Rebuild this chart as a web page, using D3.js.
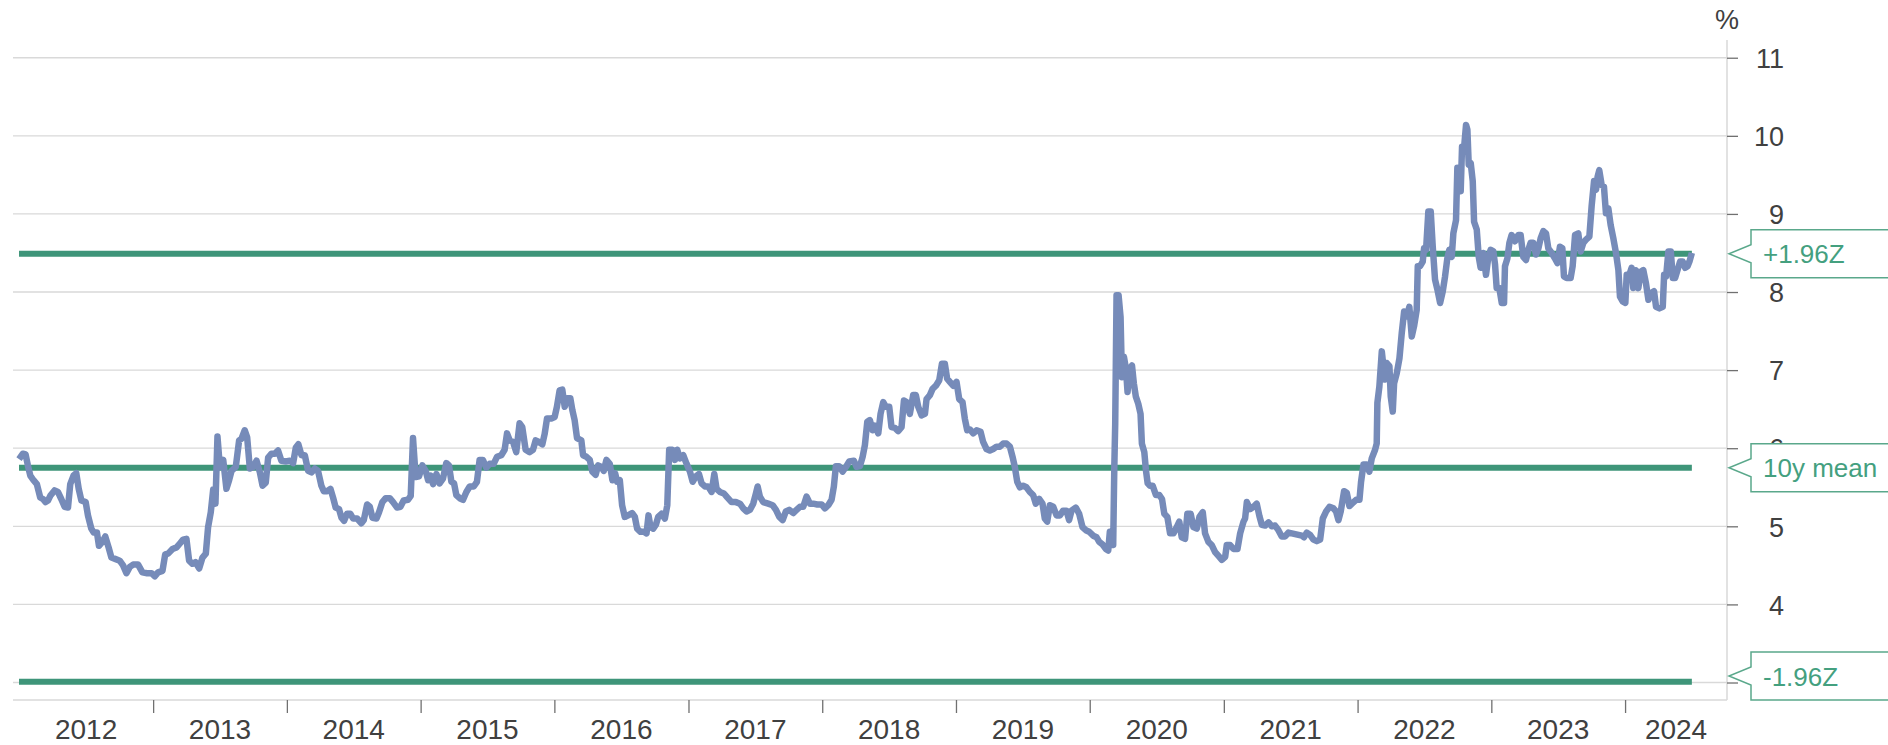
<!DOCTYPE html>
<html>
<head>
<meta charset="utf-8">
<script src="https://cdn.jsdelivr.net/npm/d3@7"></script>
<style>
  body { margin: 0; background: #fff; }
  svg { display: block; font-family: "Liberation Sans", Arial, sans-serif; }
</style>
</head>
<body>
<div id="chart"></div>
<script>
// chart values
var yTicks = [3, 4, 5, 6, 7, 8, 9, 10, 11];
var yearLabels = ["2012", "2013", "2014", "2015", "2016", "2017", "2018", "2019", "2020", "2021", "2022", "2023", "2024"];
var bandNames = ["+1.96Z", "10y mean", "-1.96Z"];
var bandValues = [8.49, 5.75, 3.01];
var axisStart = 2011.955, axisEnd = 2024.76;   // decimal years
var yDomain = [2.776, 11.227];

// [decimal year, %]
var series = [
  [2012.000,5.86],[2012.029,5.93],[2012.049,5.92],[2012.066,5.78],[2012.084,5.65],[2012.108,5.59],[2012.133,5.54],[2012.158,5.37],[2012.178,5.35],[2012.198,5.31],[2012.216,5.33],[2012.233,5.39],[2012.265,5.46],[2012.290,5.44],[2012.315,5.35],[2012.340,5.25],[2012.365,5.24],[2012.382,5.54],[2012.407,5.65],[2012.427,5.68],[2012.445,5.48],[2012.465,5.33],[2012.497,5.31],[2012.514,5.14],[2012.539,4.97],[2012.557,4.92],[2012.581,4.92],[2012.596,4.75],[2012.621,4.80],[2012.643,4.87],[2012.668,4.73],[2012.689,4.60],[2012.721,4.58],[2012.751,4.56],[2012.776,4.50],[2012.801,4.40],[2012.826,4.48],[2012.851,4.51],[2012.888,4.51],[2012.920,4.41],[2012.955,4.40],[2012.988,4.40],
  [2013.013,4.36],[2013.037,4.41],[2013.070,4.43],[2013.090,4.64],[2013.112,4.65],[2013.145,4.71],[2013.175,4.73],[2013.200,4.78],[2013.224,4.83],[2013.249,4.84],[2013.269,4.56],[2013.294,4.52],[2013.317,4.54],[2013.344,4.46],[2013.369,4.60],[2013.394,4.65],[2013.411,4.99],[2013.431,5.18],[2013.449,5.47],[2013.466,5.29],[2013.481,6.15],[2013.499,5.76],[2013.524,5.85],[2013.548,5.48],[2013.568,5.59],[2013.586,5.71],[2013.618,5.76],[2013.643,6.10],[2013.660,6.12],[2013.685,6.23],[2013.703,6.14],[2013.723,5.74],[2013.748,5.76],[2013.773,5.84],[2013.798,5.69],[2013.818,5.52],[2013.842,5.56],[2013.860,5.88],[2013.885,5.93],[2013.910,5.93],[2013.934,5.97],[2013.959,5.84],[2013.992,5.83],
  [2014.022,5.84],[2014.047,5.81],[2014.067,6.01],[2014.086,6.05],[2014.109,5.91],[2014.134,5.91],[2014.159,5.71],[2014.184,5.69],[2014.209,5.74],[2014.233,5.71],[2014.258,5.52],[2014.276,5.45],[2014.301,5.45],[2014.326,5.48],[2014.345,5.37],[2014.365,5.24],[2014.390,5.22],[2014.408,5.11],[2014.428,5.07],[2014.450,5.16],[2014.475,5.16],[2014.495,5.10],[2014.525,5.10],[2014.557,5.04],[2014.575,5.08],[2014.600,5.28],[2014.620,5.25],[2014.640,5.11],[2014.670,5.10],[2014.689,5.18],[2014.714,5.31],[2014.739,5.36],[2014.769,5.36],[2014.794,5.31],[2014.824,5.24],[2014.849,5.25],[2014.873,5.33],[2014.906,5.34],[2014.926,5.39],[2014.943,6.13],[2014.963,5.63],[2014.988,5.64],
  [2015.013,5.78],[2015.038,5.71],[2015.056,5.59],[2015.073,5.65],[2015.093,5.54],[2015.118,5.67],[2015.142,5.55],[2015.167,5.61],[2015.192,5.81],[2015.212,5.78],[2015.230,5.57],[2015.250,5.55],[2015.267,5.40],[2015.292,5.36],[2015.317,5.34],[2015.342,5.44],[2015.367,5.51],[2015.397,5.51],[2015.421,5.57],[2015.441,5.85],[2015.466,5.85],[2015.491,5.75],[2015.516,5.80],[2015.546,5.80],[2015.571,5.89],[2015.603,5.91],[2015.628,5.98],[2015.646,6.19],[2015.666,6.10],[2015.691,6.08],[2015.715,5.95],[2015.740,6.32],[2015.760,6.27],[2015.785,5.98],[2015.815,5.95],[2015.840,5.98],[2015.860,6.10],[2015.885,6.08],[2015.910,6.05],[2015.927,6.18],[2015.945,6.38],[2015.977,6.38],
  [2016.002,6.40],[2016.019,6.53],[2016.039,6.74],[2016.059,6.75],[2016.077,6.53],[2016.097,6.64],[2016.119,6.64],[2016.134,6.49],[2016.151,6.36],[2016.169,6.13],[2016.201,6.10],[2016.214,5.91],[2016.239,5.89],[2016.264,5.85],[2016.283,5.70],[2016.308,5.66],[2016.326,5.78],[2016.351,5.76],[2016.368,5.71],[2016.388,5.85],[2016.413,5.80],[2016.433,5.59],[2016.453,5.68],[2016.468,5.57],[2016.488,5.59],[2016.505,5.27],[2016.525,5.12],[2016.550,5.14],[2016.580,5.17],[2016.600,5.12],[2016.617,4.97],[2016.642,4.93],[2016.667,4.93],[2016.687,4.91],[2016.702,5.14],[2016.717,4.99],[2016.737,4.97],[2016.757,5.02],[2016.774,5.12],[2016.799,5.16],[2016.824,5.10],[2016.842,5.27],[2016.856,5.98],[2016.881,5.98],[2016.899,5.85],[2016.916,5.98],[2016.936,5.87],[2016.961,5.91],[2016.986,5.80],
  [2017.011,5.70],[2017.031,5.57],[2017.056,5.64],[2017.078,5.67],[2017.098,5.55],[2017.123,5.51],[2017.148,5.51],[2017.173,5.44],[2017.193,5.67],[2017.210,5.48],[2017.235,5.44],[2017.265,5.42],[2017.290,5.37],[2017.322,5.31],[2017.355,5.31],[2017.385,5.29],[2017.410,5.23],[2017.434,5.19],[2017.459,5.21],[2017.484,5.29],[2017.504,5.42],[2017.517,5.51],[2017.534,5.38],[2017.559,5.31],[2017.596,5.29],[2017.629,5.27],[2017.654,5.21],[2017.679,5.12],[2017.704,5.08],[2017.728,5.19],[2017.753,5.21],[2017.783,5.17],[2017.808,5.21],[2017.833,5.25],[2017.858,5.25],[2017.883,5.38],[2017.908,5.29],[2017.933,5.29],[2017.963,5.28],[2017.995,5.28],
  [2018.020,5.23],[2018.045,5.27],[2018.070,5.34],[2018.087,5.51],[2018.102,5.77],[2018.127,5.77],[2018.152,5.70],[2018.177,5.76],[2018.202,5.83],[2018.237,5.84],[2018.257,5.76],[2018.282,5.77],[2018.302,5.89],[2018.319,6.04],[2018.337,6.34],[2018.356,6.36],[2018.376,6.23],[2018.394,6.29],[2018.419,6.19],[2018.436,6.44],[2018.456,6.59],[2018.476,6.53],[2018.501,6.53],[2018.518,6.27],[2018.543,6.26],[2018.568,6.22],[2018.593,6.27],[2018.611,6.61],[2018.630,6.59],[2018.655,6.44],[2018.680,6.68],[2018.700,6.68],[2018.718,6.53],[2018.743,6.42],[2018.768,6.44],[2018.780,6.63],[2018.805,6.68],[2018.825,6.76],[2018.850,6.80],[2018.875,6.87],[2018.895,7.08],[2018.917,7.08],[2018.934,6.89],[2018.954,6.85],[2018.979,6.80],
  [2019.004,6.85],[2019.024,6.63],[2019.049,6.59],[2019.066,6.38],[2019.084,6.23],[2019.104,6.24],[2019.129,6.19],[2019.154,6.23],[2019.184,6.21],[2019.203,6.08],[2019.228,5.99],[2019.253,5.97],[2019.278,5.99],[2019.303,6.02],[2019.328,6.02],[2019.353,6.06],[2019.378,6.06],[2019.403,6.02],[2019.423,5.89],[2019.440,5.76],[2019.458,5.57],[2019.478,5.50],[2019.502,5.52],[2019.527,5.50],[2019.552,5.44],[2019.577,5.40],[2019.597,5.29],[2019.622,5.35],[2019.647,5.29],[2019.664,5.10],[2019.682,5.06],[2019.702,5.27],[2019.727,5.25],[2019.752,5.14],[2019.777,5.14],[2019.801,5.20],[2019.826,5.20],[2019.846,5.08],[2019.864,5.20],[2019.896,5.24],[2019.921,5.16],[2019.946,4.99],[2019.971,4.95],[2019.996,4.93],
  [2020.026,4.88],[2020.051,4.86],[2020.071,4.80],[2020.095,4.77],[2020.120,4.71],[2020.138,4.69],[2020.150,4.93],[2020.163,4.91],[2020.175,4.76],[2020.183,5.72],[2020.190,6.31],[2020.200,7.96],[2020.215,7.96],[2020.230,7.68],[2020.240,6.91],[2020.255,7.17],[2020.270,7.02],[2020.282,6.72],[2020.300,7.02],[2020.315,7.06],[2020.329,6.83],[2020.344,6.66],[2020.362,6.57],[2020.379,6.44],[2020.389,6.06],[2020.407,5.95],[2020.419,5.72],[2020.432,5.55],[2020.449,5.52],[2020.469,5.52],[2020.494,5.40],[2020.519,5.40],[2020.539,5.35],[2020.556,5.16],[2020.579,5.12],[2020.599,4.91],[2020.624,4.91],[2020.649,4.99],[2020.668,5.06],[2020.686,4.86],[2020.711,4.84],[2020.728,5.16],[2020.753,5.16],[2020.773,4.99],[2020.798,4.97],[2020.818,5.12],[2020.843,5.18],[2020.860,4.91],[2020.885,4.80],[2020.910,4.76],[2020.935,4.67],[2020.960,4.62],[2020.985,4.57],
  [2021.010,4.61],[2021.022,4.76],[2021.047,4.76],[2021.072,4.71],[2021.102,4.71],[2021.122,4.91],[2021.147,5.06],[2021.159,5.10],[2021.172,5.31],[2021.197,5.22],[2021.222,5.25],[2021.246,5.29],[2021.266,5.13],[2021.284,5.02],[2021.309,5.01],[2021.334,5.05],[2021.359,5.00],[2021.383,5.01],[2021.408,4.95],[2021.433,4.87],[2021.458,4.87],[2021.483,4.92],[2021.508,4.91],[2021.533,4.90],[2021.558,4.89],[2021.583,4.88],[2021.600,4.86],[2021.620,4.92],[2021.645,4.89],[2021.670,4.83],[2021.695,4.81],[2021.720,4.83],[2021.740,5.10],[2021.765,5.19],[2021.790,5.25],[2021.819,5.23],[2021.839,5.19],[2021.857,5.08],[2021.874,5.19],[2021.899,5.45],[2021.919,5.43],[2021.939,5.26],[2021.964,5.30],[2021.989,5.34],
  [2022.014,5.34],[2022.026,5.57],[2022.044,5.79],[2022.069,5.79],[2022.088,5.70],[2022.106,5.87],[2022.131,5.98],[2022.143,6.06],[2022.148,6.58],[2022.163,6.79],[2022.181,7.24],[2022.193,7.05],[2022.206,6.88],[2022.218,7.09],[2022.238,7.05],[2022.248,6.66],[2022.263,6.47],[2022.273,6.83],[2022.293,6.96],[2022.313,7.15],[2022.330,7.47],[2022.348,7.75],[2022.368,7.69],[2022.387,7.81],[2022.405,7.43],[2022.422,7.56],[2022.442,7.77],[2022.450,8.33],[2022.467,8.33],[2022.487,8.39],[2022.497,8.56],[2022.512,8.54],[2022.529,9.03],[2022.547,9.03],[2022.562,8.58],[2022.579,8.16],[2022.597,8.03],[2022.617,7.86],[2022.637,8.01],[2022.654,8.20],[2022.671,8.43],[2022.686,8.54],[2022.704,8.45],[2022.716,8.75],[2022.736,8.92],[2022.746,9.59],[2022.761,9.48],[2022.771,9.29],[2022.781,9.86],[2022.796,9.84],[2022.811,10.14],[2022.821,10.08],[2022.831,9.63],[2022.846,9.65],[2022.861,9.42],[2022.871,8.90],[2022.891,8.80],[2022.906,8.45],[2022.920,8.31],[2022.940,8.50],[2022.960,8.22],[2022.978,8.45],[2022.995,8.54],
  [2023.015,8.52],[2023.028,8.35],[2023.040,8.05],[2023.060,8.05],[2023.078,7.86],[2023.095,7.86],[2023.102,8.33],[2023.120,8.43],[2023.135,8.63],[2023.152,8.73],[2023.177,8.65],[2023.202,8.73],[2023.219,8.73],[2023.239,8.45],[2023.259,8.41],[2023.277,8.54],[2023.294,8.63],[2023.314,8.63],[2023.334,8.48],[2023.352,8.56],[2023.369,8.69],[2023.389,8.78],[2023.409,8.75],[2023.426,8.56],[2023.451,8.50],[2023.476,8.43],[2023.494,8.37],[2023.513,8.58],[2023.531,8.56],[2023.543,8.20],[2023.563,8.18],[2023.593,8.18],[2023.608,8.33],[2023.626,8.73],[2023.650,8.75],[2023.668,8.52],[2023.688,8.63],[2023.708,8.67],[2023.733,8.71],[2023.750,9.10],[2023.768,9.42],[2023.783,9.31],[2023.795,9.48],[2023.807,9.56],[2023.825,9.37],[2023.842,9.35],[2023.857,9.01],[2023.875,9.07],[2023.892,8.86],[2023.912,8.69],[2023.932,8.50],[2023.950,8.28],[2023.962,7.94],[2023.982,7.88],
  [2024.002,7.86],[2024.012,8.22],[2024.032,8.22],[2024.049,8.31],[2024.061,8.05],[2024.081,8.28],[2024.099,8.05],[2024.116,8.26],[2024.136,8.28],[2024.156,8.11],[2024.174,7.90],[2024.199,7.99],[2024.216,8.01],[2024.231,7.81],[2024.256,7.79],[2024.281,7.81],[2024.291,8.22],[2024.306,8.20],[2024.323,8.52],[2024.341,8.52],[2024.356,8.18],[2024.373,8.18],[2024.391,8.28],[2024.410,8.39],[2024.430,8.39],[2024.448,8.31],[2024.466,8.33],[2024.480,8.39],[2024.498,8.50]
];

var svgWidth = 1888;
var svgHeight = 745;
var plot = { left: 13, right: 1727, top: 40, bottom: 700 };

var lineColor = "#768bb9";
var bandColor = "#3e9579";
var gridColor = "#d9d9d9";
var textColor = "#404040";

// decimal year -> Date
function yearToDate(t) {
  var yr = Math.floor(t);
  var a = Date.UTC(yr, 0, 1), b = Date.UTC(yr + 1, 0, 1);
  return new Date(a + (t - yr) * (b - a));
}

var svg = d3.select("#chart")
  .append("svg")
  .attr("width", svgWidth)
  .attr("height", svgHeight);

var x = d3.scaleUtc()
  .domain([yearToDate(axisStart), yearToDate(axisEnd)])
  .range([plot.left, plot.right]);

var y = d3.scaleLinear()
  .domain(yDomain)
  .range([plot.bottom, plot.top]);

// gridlines
svg.append("g")
  .selectAll("line")
  .data(yTicks)
  .enter()
  .append("line")
  .attr("x1", plot.left)
  .attr("x2", plot.right)
  .attr("y1", d => y(d))
  .attr("y2", d => y(d))
  .attr("stroke", gridColor)
  .attr("stroke-width", 1.3);

// frame lines (bottom + right)
svg.append("line")
  .attr("x1", plot.left).attr("x2", plot.right)
  .attr("y1", plot.bottom).attr("y2", plot.bottom)
  .attr("stroke", gridColor).attr("stroke-width", 1.5);
svg.append("line")
  .attr("x1", plot.right).attr("x2", plot.right)
  .attr("y1", plot.top).attr("y2", plot.bottom)
  .attr("stroke", gridColor).attr("stroke-width", 1.5);

// right axis
var rightAxis = d3.axisRight(y).tickValues(yTicks).tickSize(11).tickFormat(d3.format("d"));
var yAxisG = svg.append("g")
  .attr("transform", `translate(${plot.right}, 0)`)
  .call(rightAxis);
yAxisG.select(".domain").remove();
yAxisG.selectAll(".tick line").attr("stroke", "#707070").attr("stroke-width", 1.3);
yAxisG.selectAll(".tick text")
  .attr("x", 57)
  .attr("dy", "0.36em")
  .attr("text-anchor", "end")
  .attr("fill", textColor)
  .style("font-size", "27px")
  .style("font-family", "'Liberation Sans', Arial, sans-serif");

svg.append("text")
  .attr("x", plot.right)
  .attr("y", 29)
  .attr("text-anchor", "middle")
  .attr("fill", textColor)
  .style("font-size", "27px")
  .text("%");

// bottom axis: ticks at year starts, labels centred in each (clipped) year
var yearTicks = yearLabels.slice(1).map(s => yearToDate(+s));
var bottomAxis = d3.axisBottom(x).tickValues(yearTicks).tickSize(13).tickFormat("");
var xAxisG = svg.append("g")
  .attr("transform", `translate(0, ${plot.bottom})`)
  .call(bottomAxis);
xAxisG.select(".domain").remove();
xAxisG.selectAll(".tick line").attr("stroke", "#707070").attr("stroke-width", 1.3);

var firstX = x(yearToDate(series[0][0]));
svg.append("g")
  .selectAll("text")
  .data(yearLabels)
  .enter()
  .append("text")
  .attr("x", d => {
    var a = Math.max(firstX, x(yearToDate(+d)));
    var b = Math.min(plot.right, x(yearToDate(+d + 1)));
    return (a + b) / 2;
  })
  .attr("y", 739)
  .attr("text-anchor", "middle")
  .attr("fill", textColor)
  .style("font-size", "28px")
  .text(d => d);

// z-score bands
var tStart = yearToDate(series[0][0]);
var tEnd = yearToDate(series[series.length - 1][0]);
svg.append("g")
  .selectAll("line")
  .data(bandValues)
  .enter()
  .append("line")
  .attr("x1", x(tStart))
  .attr("x2", x(tEnd))
  .attr("y1", d => y(d))
  .attr("y2", d => y(d))
  .attr("stroke", bandColor)
  .attr("stroke-width", 6);

// the series
var line = d3.line()
  .x(d => x(yearToDate(d[0])))
  .y(d => y(d[1]));

svg.append("path")
  .datum(series)
  .attr("d", line)
  .attr("fill", "none")
  .attr("stroke", lineColor)
  .attr("stroke-width", 6.5)
  .attr("stroke-linejoin", "round");

// callouts on the right
var boxLeft = plot.right + 24, half = 24;
var callouts = svg.append("g")
  .selectAll("g")
  .data(bandValues)
  .enter()
  .append("g");

callouts.append("path")
  .attr("d", d => {
    var c = Math.min(y(d), plot.bottom - half);
    return `M${boxLeft},${c - half} H${svgWidth + 10} V${c + half} H${boxLeft} V${c + 9} L${plot.right + 2},${c} L${boxLeft},${c - 9} Z`;
  })
  .attr("fill", "#fff")
  .attr("stroke", "#5aa88b")
  .attr("stroke-width", 1.5);

callouts.append("text")
  .attr("x", boxLeft + 12)
  .attr("y", d => Math.min(y(d), plot.bottom - half) + 9.5)
  .attr("fill", "#44a07f")
  .style("font-size", "26px")
  .text((d, i) => bandNames[i]);
</script>
</body>
</html>
